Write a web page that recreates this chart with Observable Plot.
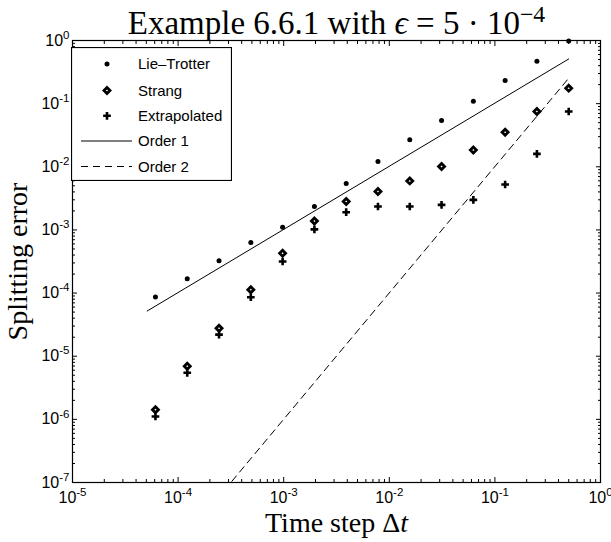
<!DOCTYPE html>
<html><head><meta charset="utf-8">
<script src="https://cdn.jsdelivr.net/npm/d3@7"></script>
<script src="https://cdn.jsdelivr.net/npm/@observablehq/plot@0.6"></script>
<style>
body{margin:0;background:#fff;}
#wrap{position:relative;width:611px;height:542px;}
#wrap svg{display:block;}
#legend{position:absolute;left:71px;top:47px;}
</style>
</head><body><div id="wrap"></div>
<script>
// time steps
const dt = [0.5, 0.25, 0.125, 0.0625, 0.03125, 0.015625, 0.0078125, 0.00390625,
  0.001953125, 0.0009765625, 0.00048828125, 0.000244140625, 0.0001220703125, 0.00006103515625];
// splitting errors
const lieTrotter = [0.98, 0.471, 0.232, 0.109, 0.054, 0.0267, 0.0121, 0.00543,
  0.00235, 0.0011, 0.000632, 0.000324, 0.000168, 0.000087];
const strang = [0.176, 0.0751, 0.0353, 0.0185, 0.0101, 0.00598, 0.00406, 0.00282,
  0.00138, 0.000428, 0.0001125, 0.0000278, 0.00000695, 0.00000142];
const extrapolated = [0.0751, 0.016, 0.00524, 0.00299, 0.00249, 0.00235, 0.00235, 0.00191,
  0.00102, 0.000316, 0.000086, 0.000022, 0.00000546, 0.00000111];
// reference slopes
const refDt = [5.1e-5, 0.5];
const order1 = [5.2e-5, 0.51];
const order2 = [2.6e-9, 0.253];
// ticks
const xMajor = [1e-5, 1e-4, 1e-3, 1e-2, 1e-1, 1];
const yMajor = [1e-7, 1e-6, 1e-5, 1e-4, 1e-3, 1e-2, 1e-1, 1];
const minorMult = [2, 3, 4, 5, 6, 7, 8, 9];
const xMinor = xMajor.slice(0, -1).flatMap(p => minorMult.map(m => m * p));
const yMinor = yMajor.slice(0, -1).flatMap(p => minorMult.map(m => m * p));
// texts
const titleText = "Example 6.6.1 with *{ϵ} = 5 · 10^{−4}";
const xLabel = "Time step Δ*{t}";
const yLabel = "Splitting error";
const legendLabels = ["Lie\u2013Trotter", "Strang", "Extrapolated", "Order 1", "Order 2"];

const rows = (ys) => dt.map((d, i) => ({x: d, y: ys[i]}));
const refRows = (ys) => refDt.map((d, i) => ({x: d, y: ys[i]}));
const expFmt = d => "10^{" + Math.round(Math.log10(d)) + "}";
const none = () => "";
const serif = "'Liberation Serif', 'Times New Roman', serif";
const sans = "'Liberation Sans', Arial, sans-serif";

const chart = Plot.plot({
  width: 611, height: 542,
  marginTop: 40, marginBottom: 60, marginLeft: 72, marginRight: 11,
  x: {type: "log", domain: [1e-5, 1]},
  y: {type: "log", domain: [1e-7, 1]},
  style: {fontFamily: sans, fontSize: "15px", color: "black", background: "white"},
  marks: [
    Plot.line(refRows(order1), {x: "x", y: "y", stroke: "black", strokeWidth: 1}),
    Plot.line(refRows(order2), {x: "x", y: "y", stroke: "black", strokeWidth: 1, strokeDasharray: "7,5", clip: true}),
    Plot.dot(rows(lieTrotter), {x: "x", y: "y", r: 2.5, fill: "black", symbol: "circle"}),
    Plot.dot(rows(strang), {x: "x", y: "y", r: 2.7, symbol: "diamond2", stroke: "black", strokeWidth: 2.8, fill: "white"}),
    Plot.dot(rows(extrapolated), {x: "x", y: "y", r: 2.6, symbol: "plus", stroke: "black", strokeWidth: 2.6}),
    Plot.frame({stroke: "black", strokeWidth: 1.2}),
    Plot.axisX({anchor: "bottom", ticks: xMinor, tickSize: -3, tickFormat: none, label: null}),
    Plot.axisX({anchor: "top", ticks: xMinor, tickSize: -3, tickFormat: none, label: null}),
    Plot.axisX({anchor: "bottom", ticks: xMajor, tickSize: -5, tickFormat: none, label: null}),
    Plot.axisX({anchor: "top", ticks: xMajor, tickSize: -5, tickFormat: none, label: null}),
    Plot.axisY({anchor: "left", ticks: yMinor, tickSize: -3, tickFormat: none, label: null}),
    Plot.axisY({anchor: "right", ticks: yMinor, tickSize: -3, tickFormat: none, label: null}),
    Plot.axisY({anchor: "left", ticks: yMajor, tickSize: -5, tickFormat: none, label: null}),
    Plot.axisY({anchor: "right", ticks: yMajor, tickSize: -5, tickFormat: none, label: null}),
    Plot.axisX({anchor: "bottom", ticks: xMajor, tickSize: 0, tickPadding: 9, tickFormat: expFmt, label: null}),
    Plot.axisY({anchor: "left", ticks: yMajor, tickSize: 0, tickPadding: 3, tickFormat: expFmt, label: null}),
    Plot.text([titleText], {text: d => d, frameAnchor: "top", dy: -7, lineAnchor: "bottom", textAnchor: "middle", fontSize: 33, fontFamily: serif}),
    Plot.text([xLabel], {text: d => d, frameAnchor: "bottom", dy: 41, lineAnchor: "middle", textAnchor: "middle", fontSize: 28, fontFamily: serif}),
    Plot.text([yLabel], {text: d => d, frameAnchor: "left", dx: -54, rotate: -90, lineAnchor: "middle", textAnchor: "middle", fontSize: 28, fontFamily: serif})
  ]
});

function richify(el, raise) {
  const s = el.textContent;
  if (!/[\^*]\{/.test(s)) return;
  el.textContent = "";
  const re = /([\^*])\{([^}]*)\}/g;
  let last = 0, m;
  const sel = d3.select(el);
  while ((m = re.exec(s))) {
    if (m.index > last) sel.append("tspan").text(s.slice(last, m.index));
    if (m[1] === "^") sel.append("tspan").attr("dy", raise).attr("font-size", "0.72em").text(m[2]);
    else sel.append("tspan").attr("font-style", "italic").text(m[2]);
    last = re.lastIndex;
  }
  if (last < s.length) sel.append("tspan").text(s.slice(last));
}
const root = d3.select(chart);
root.selectAll("g[aria-label$='tick label'] text").style("font-size", "16px").style("font-family", sans);
chart.querySelectorAll("g[aria-label$='tick label'] text").forEach(el => richify(el, "-0.6em"));
chart.querySelectorAll("g[aria-label='text'] text").forEach(el => richify(el, "-0.5em"));
root.selectAll("g[aria-label='y-axis tick label'] text").attr("text-anchor", "end");

const wrap = document.getElementById("wrap");
wrap.appendChild(chart);

// legend
const lw = 160, lh = 133, rowY = [17, 43.5, 68.8, 94, 119.5];
const lg = d3.select(wrap).append("svg").attr("id", "legend")
  .attr("width", lw + 1).attr("height", lh + 1);
lg.append("rect").attr("x", 0.5).attr("y", 0.5).attr("width", lw).attr("height", lh)
  .attr("fill", "white").attr("stroke", "black").attr("stroke-width", 1.2);
const sym = (type, r) => d3.symbol(type, Math.PI * r * r)();
const kinds = ["dot", "diamond", "plus", "solid", "dashed"];
kinds.forEach((k, i) => {
  const g = lg.append("g").attr("transform", `translate(0,${rowY[i]})`);
  if (k === "dot") g.append("path").attr("d", sym(d3.symbolCircle, 2.5)).attr("transform", "translate(36,0)").attr("fill", "black");
  if (k === "diamond") g.append("path").attr("d", sym(d3.symbolDiamond2, 2.7)).attr("transform", "translate(36,0)").attr("fill", "white").attr("stroke", "black").attr("stroke-width", 2.8);
  if (k === "plus") g.append("path").attr("d", sym(d3.symbolPlus, 2.6)).attr("transform", "translate(36,0)").attr("fill", "none").attr("stroke", "black").attr("stroke-width", 2.6);
  if (k === "solid") g.append("line").attr("x1", 10).attr("x2", 61).attr("stroke", "black");
  if (k === "dashed") g.append("line").attr("x1", 10).attr("x2", 61).attr("stroke", "black").attr("stroke-dasharray", "7,5");
  g.append("text").attr("x", 67).attr("dy", "0.36em").attr("font-family", sans)
    .attr("font-size", 15).text(legendLabels[i]);
});
</script>
</body></html>
